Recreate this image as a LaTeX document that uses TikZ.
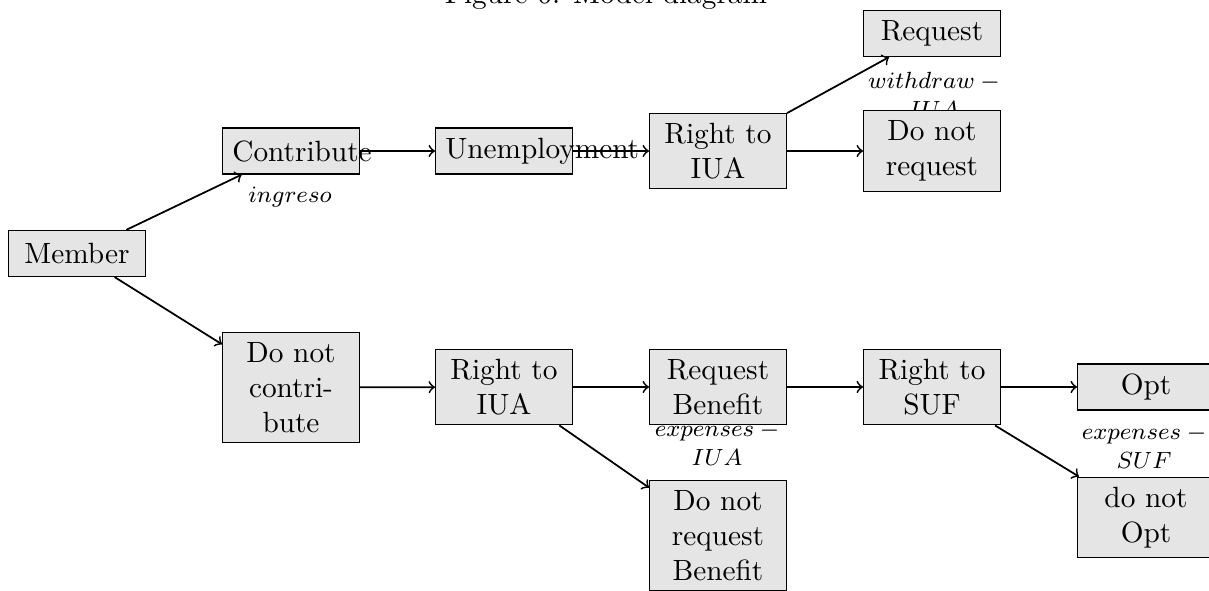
\documentclass[tikz,border=0pt]{standalone}
\usetikzlibrary{arrows}
\begin{document}
\begin{tikzpicture}[x=0.3413pt,y=-0.3413pt,
  box/.style={draw, fill=gray!20, text width=40pt, align=flush center, minimum height=15.7pt, inner sep=3.33pt},
  lab/.style={font=\fontsize{8.3}{9.6}\selectfont, align=center, inner sep=0pt, anchor=base},
  conn/.style={->, semithick}]
\useasboundingbox (0,0) rectangle (1209,590);
% title
\node[anchor=base, inner sep=0pt] (title) at (606,4) {Figure 6: Model diagram};
% labels (drawn first, boxes cover them)
\node[lab] (lingreso) at (290,202) {$ingreso$};
\node[lab] (lwithdraw) at (934,117) {$withdraw\mskip\medmuskip-$\\$IUA$};
\node[lab] (lexpiua) at (717,465) {$expenses\mskip\medmuskip-$\\$IUA$};
\node[lab] (lexpsuf) at (1144,468) {$expenses\mskip\medmuskip-$\\$SUF$};
% nodes
\node[box] (member) at (77,253.5) {Member};
\node[box] (contribute) at (291,151) {Contribute};
\node[box] (unemployment) at (504,151) {Unemployment};
\node[box] (rightiua) at (718,151) {Right to IUA};
\node[box] (request) at (932,33.5) {Request};
\node[box] (donotrequest) at (932,151) {Do not request};
\node[box] (donotcontribute) at (291,387.5) {Do not contri\-bute};
\node[box] (rightiuab) at (504,387) {Right to IUA};
\node[box] (requestbenefit) at (718,387) {Request Benefit};
\node[box] (donotrequestbenefit) at (718,535.5) {Do not request Benefit};
\node[box] (rightsuf) at (932,387) {Right to SUF};
\node[box] (opt) at (1146,387) {Opt};
\node[box] (donotopt) at (1146,517.5) {do not Opt};
% connectors
\draw[conn] (member) -- (contribute);
\draw[conn] (member) -- (donotcontribute);
\draw[conn] (contribute) -- (unemployment);
\draw[conn] (unemployment) -- (rightiua);
\draw[conn] (rightiua) -- (request);
\draw[conn] (rightiua) -- (donotrequest);
\draw[conn] (donotcontribute) -- (rightiuab);
\draw[conn] (rightiuab) -- (requestbenefit);
\draw[conn] (rightiuab) -- (donotrequestbenefit);
\draw[conn] (requestbenefit) -- (rightsuf);
\draw[conn] (rightsuf) -- (opt);
\draw[conn] (rightsuf) -- (donotopt);
\end{tikzpicture}
\end{document}
